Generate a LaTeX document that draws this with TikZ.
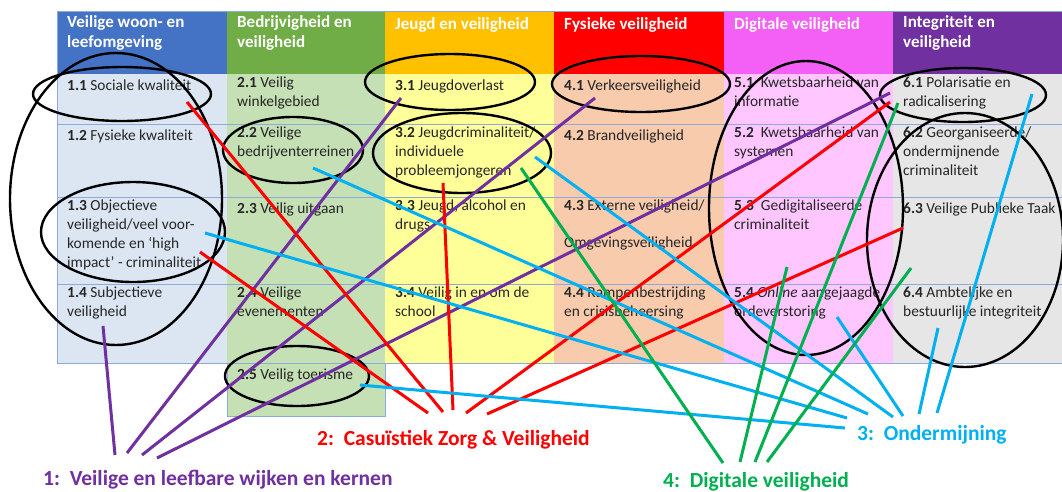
\documentclass[tikz,border=0pt]{standalone}
\usepackage{fontspec}
\setmainfont{Carlito}
\definecolor{h1}{HTML}{4472C4}
\definecolor{h2}{HTML}{70AD47}
\definecolor{h3}{HTML}{FFC000}
\definecolor{h4}{HTML}{FF0000}
\definecolor{h5}{HTML}{F45FF6}
\definecolor{h6}{HTML}{7030A0}
\definecolor{b1}{HTML}{DCE6F2}
\definecolor{b2}{HTML}{C5E0B4}
\definecolor{b3}{HTML}{FFFF99}
\definecolor{b4}{HTML}{F8CBAD}
\definecolor{b5}{HTML}{FFC6FF}
\definecolor{b6}{HTML}{E6E6E6}
\definecolor{grid}{HTML}{8EAADB}
\definecolor{cpur}{HTML}{7030A0}
\definecolor{cred}{HTML}{FF0000}
\definecolor{cblu}{HTML}{00B0F0}
\definecolor{cgrn}{HTML}{00B050}
\begin{document}
\begin{tikzpicture}[x=1pt,y=-1pt,
  item/.style={anchor=north west, inner sep=0pt, align=left, font=\fontsize{15.4}{19}\selectfont, text=black!85, execute at begin node=\strut},
  head/.style={anchor=north west, inner sep=0pt, align=left, font=\bfseries\fontsize{17}{20}\selectfont, text=white, execute at begin node=\strut},
  ring/.style={draw=black, line width=2.4pt},
  gridline/.style={draw=grid, line width=0.8pt},
  lnk/.style={line width=3pt},
  lbl/.style={anchor=base west, inner sep=0pt, font=\bfseries\fontsize{21.5}{24}\selectfont}]
\useasboundingbox (0,0) rectangle (1062,491);
\fill[white] (0,0) rectangle (1062,491);
% column fills
\fill[h1] (57,11) rectangle (227,74);
\fill[h2] (227,11) rectangle (385,74);
\fill[h3] (385,11) rectangle (554,74);
\fill[h4] (554,11) rectangle (724,74);
\fill[h5] (724,11) rectangle (893,74);
\fill[h6] (893,11) rectangle (1062,74);
\fill[b1] (57,74) rectangle (227,363);
\fill[b2] (227,74) rectangle (385,416);
\fill[b3] (385,74) rectangle (554,363);
\fill[b4] (554,74) rectangle (724,363);
\fill[b5] (724,74) rectangle (893,363);
\fill[b6] (893,74) rectangle (1062,363);
% grid
\draw[gridline] (57,11) -- (1062,11);
\draw[gridline] (57,11) -- (57,363);
\draw[gridline] (57,124) -- (1062,124);
\draw[gridline] (57,197) -- (1062,197);
\draw[gridline] (57,284) -- (1062,284);
\draw[gridline] (57,363) -- (1062,363);
\draw[gridline] (227,363) -- (227,416) -- (385,416) -- (385,363);
% headers
\node[head] (hd1) at (67,15.3) {Veilige woon- en\\leefomgeving};
\node[head] (hd2) at (237,15.3) {Bedrijvigheid en\\veiligheid};
\node[head] (hd3) at (395,15.3) {Jeugd en veiligheid};
\node[head] (hd4) at (564,15.3) {Fysieke veiligheid};
\node[head] (hd5) at (734,15.3) {Digitale veiligheid};
\node[head] (hd6) at (903,15.3) {Integriteit en\\veiligheid};
% column 1
\node[item] (t11) at (67,76.8) {\textbf{1.1} Sociale kwaliteit};
\node[item] (t12) at (67,126.8) {\textbf{1.2} Fysieke kwaliteit};
\node[item] (t13) at (67,199.8) {\textbf{1.3} Objectieve\\veiligheid/veel voor-\\komende en ‘high\\impact’ - criminaliteit};
\node[item] (t14) at (67,286.8) {\textbf{1.4} Subjectieve\\veiligheid};
% column 2
\node[item] (t21) at (237,76.8) {\textbf{2.1} Veilig\\winkelgebied};
\node[item] (t22) at (237,126.8) {\textbf{2.2} Veilige\\bedrijventerreinen};
\node[item] (t23) at (237,199.8) {\textbf{2.3} Veilig uitgaan};
\node[item] (t24) at (237,286.8) {\textbf{2.4} Veilige\\evenementen};
\node[item] (t25) at (237,365.8) {\textbf{2.5} Veilig toerisme};
% column 3
\node[item] (t31) at (395,76.8) {\textbf{3.1} Jeugdoverlast};
\node[item] (t32) at (395,126.8) {\textbf{3.2} Jeugdcriminaliteit/\\individuele\\probleemjongeren};
\node[item] (t33) at (395,199.8) {\textbf{3.3} Jeugd, alcohol en\\drugs};
\node[item] (t34) at (395,286.8) {\textbf{3.4} Veilig in en om de\\school};
% column 4
\node[item] (t41) at (564,76.8) {\textbf{4.1} Verkeersveiligheid};
\node[item] (t42) at (564,126.8) {\textbf{4.2} Brandveiligheid};
\node[item] (t43) at (564,199.8) {\textbf{4.3} Externe veiligheid/\\[18pt]Omgevingsveiligheid};
\node[item] (t44) at (564,286.8) {\textbf{4.4} Rampenbestrijding\\en crisisbeheersing};
% column 5
\node[item] (t51) at (734,76.8) {\textbf{5.1}\hspace{0.45em}Kwetsbaarheid van\\informatie};
\node[item] (t52) at (734,126.8) {\textbf{5.2}\hspace{0.45em}Kwetsbaarheid van\\systemen};
\node[item] (t53) at (734,199.8) {\textbf{5.3}\hspace{0.45em}Gedigitaliseerde\\criminaliteit};
\node[item] (t54) at (734,286.8) {\textbf{5.4} \textit{Online} aangejaagde\\ordeverstoring};
% column 6
\node[item] (t61) at (903,76.8) {\textbf{6.1} Polarisatie en\\radicalisering};
\node[item] (t62) at (903,126.8) {\textbf{6.2} Georganiseerde/\\ondermijnende\\criminaliteit};
\node[item] (t63) at (903,199.8) {\textbf{6.3} Veilige Publieke Taak};
\node[item] (t64) at (903,286.8) {\textbf{6.4} Ambtelijke en\\bestuurlijke integriteit};
% ellipses
\draw[ring] (122,94) ellipse [x radius=89, y radius=27];
\draw[ring] (116,199) ellipse [x radius=106, y radius=146];
\draw[ring] (133,232) ellipse [x radius=92, y radius=50];
\draw[ring] (293,150) ellipse [x radius=70, y radius=33];
\draw[ring] (297,376) ellipse [x radius=72, y radius=30];
\draw[ring] (450,82) ellipse [x radius=85, y radius=28];
\draw[ring] (462,153) ellipse [x radius=89, y radius=40];
\draw[ring] (641,84) ellipse [x radius=89, y radius=28];
\draw[ring] (806,208) ellipse [x radius=97, y radius=147];
\draw[ring] (963,95) ellipse [x radius=83, y radius=27];
\draw[ring] (965,240) ellipse [x radius=98, y radius=127];
% bottom labels
\node[lbl, text=cpur] (L1) at (43,485) {1:\ \ Veilige en leefbare wijken en kernen};
\node[lbl, text=cred] (L2) at (317,445) {2:\ \ Casuïstiek Zorg \& Veiligheid};
\node[lbl, text=cblu] (L3) at (857,440) {3:\ \ Ondermijning};
\node[lbl, text=cgrn] (L4) at (663,487) {4:\ \ Digitale veiligheid};
% connector end points
\coordinate (pa14) at (103,326);  \coordinate (pb14) at (115,455);
\coordinate (pa31) at (401,98);   \coordinate (pb31) at (127,453);
\coordinate (pa41) at (595,98);   \coordinate (pb41) at (142,455);
\coordinate (pa61) at (890,93);   \coordinate (pb61) at (157,458);
\coordinate (ra11) at (187,102);  \coordinate (rb11) at (443,412);
\coordinate (ra13) at (200,252);  \coordinate (rb13) at (428,413);
\coordinate (ra32) at (443,183);  \coordinate (rb32) at (453,410);
\coordinate (ra61) at (890,102);  \coordinate (rb61) at (466,413);
\coordinate (ra63) at (903,228);  \coordinate (rb63) at (487,414);
\coordinate (ba13) at (205,233);  \coordinate (bb13) at (847,418);
\coordinate (ba22) at (313,168);  \coordinate (bb22) at (868,414);
\coordinate (ba25) at (360,385);  \coordinate (bb25) at (845,428);
\coordinate (ba32) at (535,157);  \coordinate (bb32) at (893,417);
\coordinate (ba54) at (837,317);  \coordinate (bb54) at (903,416);
\coordinate (ba64) at (938,328);  \coordinate (bb64) at (919,414);
\coordinate (ba61) at (1032,94);  \coordinate (bb61) at (937,413);
\coordinate (ga32) at (521,168);  \coordinate (gb32) at (723,463);
\coordinate (ga53) at (787,267);  \coordinate (gb53) at (740,462);
\coordinate (ga61) at (898,103);  \coordinate (gb61) at (755,462);
\coordinate (ga63) at (911,268);  \coordinate (gb63) at (767,462);
% connectors
\draw[lnk, cpur] (pa14) -- (pb14);
\draw[lnk, cpur] (pa31) -- (pb31);
\draw[lnk, cpur] (pa41) -- (pb41);
\draw[lnk, cpur] (pa61) -- (pb61);
\draw[lnk, cred] (ra11) -- (rb11);
\draw[lnk, cred] (ra13) -- (rb13);
\draw[lnk, cred] (ra32) -- (rb32);
\draw[lnk, cred] (ra61) -- (rb61);
\draw[lnk, cred] (ra63) -- (rb63);
\draw[lnk, cblu] (ba13) -- (bb13);
\draw[lnk, cblu] (ba22) -- (bb22);
\draw[lnk, cblu] (ba25) -- (bb25);
\draw[lnk, cblu] (ba32) -- (bb32);
\draw[lnk, cblu] (ba54) -- (bb54);
\draw[lnk, cblu] (ba64) -- (bb64);
\draw[lnk, cblu] (ba61) -- (bb61);
\draw[lnk, cgrn] (ga32) -- (gb32);
\draw[lnk, cgrn] (ga53) -- (gb53);
\draw[lnk, cgrn] (ga61) -- (gb61);
\draw[lnk, cgrn] (ga63) -- (gb63);
\end{tikzpicture}
\end{document}
